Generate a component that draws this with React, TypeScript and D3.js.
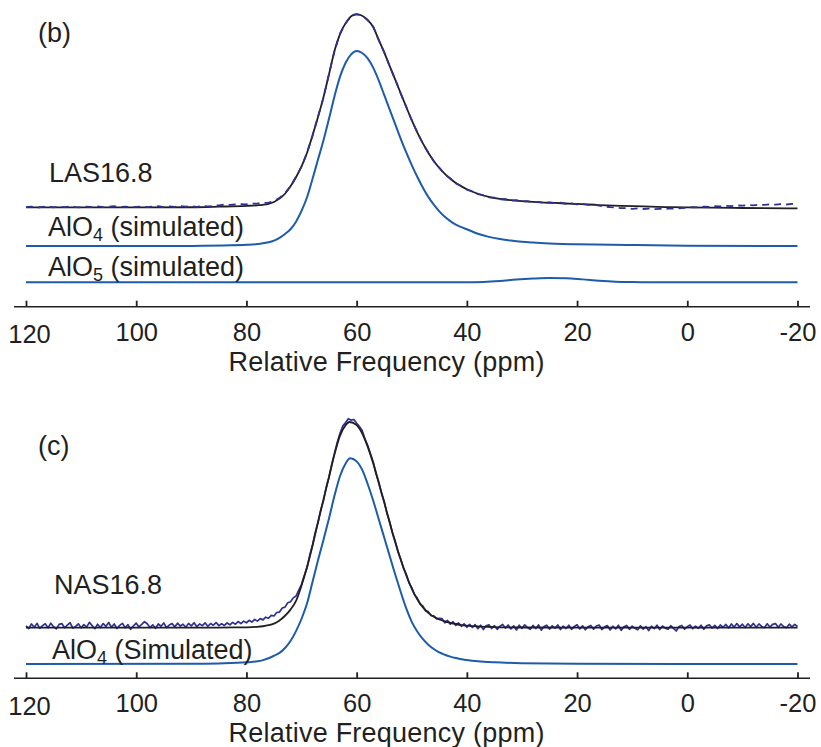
import React, { useEffect, useRef } from "react";
import * as d3 from "d3";

const xTicks = [120, 100, 80, 60, 40, 20, 0, -20];

// (b) LAS16.8 -- [ppm, intensity], peak of AlO4 = 100
const lasFit: [number, number][] = [
  [120, 0.5], [100, 0.5], [90, 0.6], [85, 0.9], [80, 1.3], [78, 1.6], [77, 1.85], [76, 2.3],
  [75, 3.3], [74, 5.0], [73, 7.5], [72, 11.3], [71, 16], [70, 21.5], [69, 28.5], [68, 37.5],
  [67, 47], [66, 57.2], [65, 69], [64, 81], [63, 89.5], [62, 95], [61, 98.5], [60, 99.6],
  [59, 98.8], [58, 96.7], [57, 93], [56, 86.5], [55, 80], [54, 73], [53, 66], [52, 59],
  [51, 52], [50, 45.3], [49, 39], [48, 33.5], [47, 28.5], [46, 24.3], [45, 20.7], [44, 17.7],
  [43, 15.2], [42, 13], [41, 11.3], [40, 9.8], [38, 7.5], [36, 5.9], [34, 4.9], [32, 4.2],
  [30, 3.7], [28, 3.3], [26, 3.0], [24, 2.8], [22, 2.5], [20, 2.3], [16, 1.7], [12, 1.3],
  [8, 1.0], [4, 0.7], [0, 0.5], [-10, 0.2], [-20, 0],
];
const lasAlO4: [number, number][] = [
  [120, 0], [95, 0], [88, 0.1], [84, 0.3], [80, 0.6], [78, 1.0], [76, 1.9], [75, 2.8],
  [74, 4.2], [73, 6.2], [72, 8.6], [71, 12.5], [70, 18], [69, 25], [68, 34.5], [67, 44.5],
  [66, 54.4], [65, 65.5], [64, 77], [63, 87], [62, 94], [61, 98.3], [60, 100], [59, 99],
  [58, 96.2], [57, 91.5], [56, 85], [55, 77.5], [54, 70], [53, 62.5], [52, 55], [51, 48],
  [50, 41.5], [49, 35.5], [48, 30], [47, 25.2], [46, 21.2], [45, 17.8], [44, 15], [43, 12.8],
  [42, 11], [41, 9.7], [40, 8.6], [38, 6.3], [36, 4.7], [34, 3.6], [32, 2.8], [30, 2.2],
  [28, 1.8], [24, 1.2], [20, 0.9], [10, 0.5], [0, 0.2], [-20, 0],
];
const lasAlO5: [number, number][] = [
  [120, 0], [40, 0], [37, 0.2], [34, 0.7], [31, 1.4], [28, 1.9], [25, 2.2], [22, 2.1],
  [19, 1.5], [16, 0.8], [13, 0.3], [10, 0.1], [7, 0], [-20, 0],
];
// measured spectrum, 120 ppm down to -20 ppm, 1 ppm step
const lasExpStart = 120;
const lasExpStep = 1;
const lasExp = [
  0.6, 0.9, 0.4, 0.8, 1.0, 0.5, 0.9, 0.6, 1.1, 0.7, 0.5, 0.9, 0.7, 1.0, 0.6, 0.8, 1.1, 0.7, 0.9, 0.6,
  0.8, 1.0, 0.6, 0.9, 1.1, 0.7, 1.0, 0.8, 1.2, 0.9, 1.1, 0.8, 1.2, 1.0, 1.3,
  1.6, 1.9, 1.8, 2.0, 2.2, 2.1, 2.4, 2.5, 2.7, 3.0,
  3.7, 5.4, 7.8, 11.4, 16.3, 21.4, 28.7, 37.3, 47.2, 57.0, 69.2, 80.8, 89.7, 94.8, 98.7, 99.5,
  98.9, 96.5, 93.2, 86.3, 80.2, 72.8, 66.2, 58.8, 52.2, 45.1, 39.2, 33.3, 28.7, 24.1, 20.9,
  17.5, 15.4, 12.8, 11.5, 9.6, 8.7, 7.3, 6.8, 5.7, 5.5, 4.7, 4.7, 4.0, 4.2, 3.5, 3.7, 3.1, 3.3,
  2.8, 3.1, 2.6, 2.9, 2.3, 2.6, 2.1, 2.3, 1.8, 1.9, 1.4,
  1.0, 0.6, 0.5, 0.1, 0.2, -0.2, 0.0, -0.3, -0.1, -0.4, -0.2, -0.3, 0.0, -0.1, 0.2,
  0.3, 0.6, 0.5, 0.9, 0.8, 1.1, 1.0, 1.3, 1.2, 1.5, 1.4, 1.7, 1.6, 1.9, 1.8, 2.1, 1.9, 2.2, 2.0,
  2.3, 2.2,
];

// (c) NAS16.8
const nasFit: [number, number][] = [
  [120, 0], [90, 0], [82, 0.15], [80, 0.2], [78, 0.4], [77, 0.7], [76, 1.2], [75, 2.0],
  [74, 3.5], [73, 5.8], [72, 8.8], [71, 13], [70, 20.5], [69, 29.5], [68, 40], [67, 51.5],
  [66, 62.5], [65, 73.5], [64, 84.5], [63, 93.5], [62, 98.5], [61.3, 100], [60, 98.5],
  [59, 94.5], [58, 88], [57, 80], [56, 70.5], [55, 61], [54, 51], [53, 41.5], [52, 33],
  [51, 25.5], [50, 19], [49, 13.8], [48, 10], [47, 7.2], [46, 5.3], [45, 4.0], [44, 3.1],
  [43, 2.4], [42, 1.8], [41, 1.3], [40, 1.0], [38, 0.6], [35, 0.3], [30, 0.1], [20, 0], [-20, 0],
];
const nasAlO4: [number, number][] = [
  [120, 0], [90, 0.1], [85, 0.3], [80, 0.8], [78, 1.3], [77, 1.9], [76, 2.8], [75, 4.0],
  [74, 5.4], [73, 7.8], [72, 11.2], [71, 16], [70, 22], [69, 29.5], [68, 40], [67, 50.5],
  [66, 60.5], [65, 71], [64, 82], [63, 91.5], [62, 97.5], [61.2, 100], [60, 98.5], [59, 94.5],
  [58, 87.5], [57, 79.5], [56, 70.5], [55, 61.5], [54, 52.5], [53, 43.5], [52, 35], [51, 27],
  [50, 20.5], [49, 15.8], [48, 12.2], [47, 9.4], [46, 7.3], [45, 5.6], [44, 4.5], [43, 3.6],
  [42, 2.9], [41, 2.3], [40, 1.9], [38, 1.3], [35, 0.8], [30, 0.4], [20, 0.15], [0, 0.05], [-20, 0],
];
// measured spectrum, 120 ppm down to -20 ppm, 0.5 ppm step
const nasExpStart = 120;
const nasExpStep = 0.5;
const nasExp = [
  0.9, -0.4, 1.8, 0.2, 2.1, -0.3, 1.0, 1.9, -0.1, 2.2,
  0.5, -0.6, 1.6, 2.0, 0.0, 1.2, 2.4, -0.2, 0.6, 1.9,
  -0.1, 1.5, 0.3, 2.6, 1.0, -0.5, 1.7, 0.1, 2.0, 0.6,
  2.5, 0.2, 1.8, -0.4, 1.1, 2.1, 0.0, 1.5, -0.8, 0.9,
  2.2, 0.4, 1.6, 2.9, 1.9, 0.1, 1.4, -0.3, 1.8, 0.7,
  2.3, 0.0, 1.3, 2.0, 0.4, 2.2, 0.8, 1.7, 0.2, 2.1,
  0.9, 2.4, 0.5, 1.8, 1.0, 2.3, 0.7, 2.0, 1.2, 2.5,
  1.0, 1.9, 1.1, 2.3, 1.4, 2.6, 1.7, 3.0, 2.0, 3.2, 2.4, 3.6, 2.7, 4.0, 3.2, 4.4,
  3.8, 5.1, 4.6, 6.0, 5.7, 7.4, 7.6, 9.6, 10.0, 12.1, 12.6, 14.5, 15.4, 18.3, 21.1,
  25.4, 29.2, 35.3, 40.2, 46.3, 51.2, 57.4, 62.0, 68.5, 73.3, 79.6, 84.9, 90.3, 94.6, 98.1,
  99.7, 101.6, 100.9, 101.2, 99.4, 97.8, 95.9, 91.9, 88.7, 84.6, 80.6, 75.1, 71.0, 65.5, 61.4,
  55.6, 51.5, 46.0, 42.1, 37.0, 33.4, 29.0, 26.1, 21.8, 19.5, 16.0, 14.4, 11.5, 10.6, 8.2,
  7.8, 5.9, 5.8, 4.3, 4.5,
  4.4, 2.4, 3.5, 1.7, 2.9, 1.1, 2.3, 0.7, 1.9, 0.2, 1.6, 0.1,
  1.5, -0.5, 1.2, -0.9, 0.9, 1.4, -0.4, 1.0, -0.8, 0.7,
  1.6, -0.2, 1.3, -0.6, 0.9, -1.1, 1.2, -0.3, 1.4, 0.1,
  -0.8, 1.1, -0.4, 1.3, -1.2, 0.6, 1.2, -0.7, 0.9, -0.2,
  1.3, -0.9, 0.8, -0.4, 1.2, -0.8, 0.6, 1.4, -0.6, 0.9,
  -1.0, 0.5, 1.1, -0.7, 0.8, 1.3, -0.9, 0.4, 1.0, -1.1,
  0.7, -0.6, 1.2, -1.3, 0.5, 1.1, -0.8, 0.8, -0.3, -1.0,
  0.9, -0.7, 0.5, -1.4, 0.7, -0.5, 1.2, -0.9, 0.8, -0.2,
  -0.8, 1.0, -0.3, -1.6, 0.6, 1.1, -0.7, 0.5, 1.3, -0.5,
  0.8, -0.3, 1.2, -0.8, 0.9, 1.4, -0.2, 1.1, -0.4, 1.3,
  0.2, 1.6, -0.1, 1.8, 0.3, 2.0, 0.4, 1.7, 0.1, 1.9,
  0.5, 2.1, 0.2, 1.8, 0.6, 0.0, 1.9, 0.3, 1.6, 2.0,
  0.2, 1.8, 0.5, 0.0, 1.7, 0.4, 1.6, 0.6,
];

const INK = "#231F20";
const BLUE = "#1D5CAB";
const NAVY = "#2E3192";
const FONT = "'Liberation Sans', Arial, Helvetica, sans-serif";

const App = () => {
  const ref = useRef<SVGSVGElement | null>(null);

  useEffect(() => {
    if (!ref.current) return;
    const svg = d3.select(ref.current);
    svg.selectAll("*").remove();

    const x = d3.scaleLinear().domain([120, -20]).range([26, 797.5]);

    const toPairs = (vals: number[], start: number, step: number) =>
      vals.map((v, i) => [start - i * step, v] as [number, number]);

    const drawPanel = (opts: {
      y: d3.ScaleLinear<number, number>;
      axisY: number;
      traces: { data: [number, number][]; offset: number; color: string; width: number; smooth: boolean; dash?: string }[];
      labels: { text: string; sub?: string; rest?: string; x: number; y: number }[];
    }) => {
      const g = svg.append("g");
      const { y } = opts;

      opts.traces.forEach(t => {
        const line = d3
          .line<[number, number]>()
          .x(d => x(d[0]))
          .y(d => y(d[1] + t.offset))
          .curve(t.smooth ? d3.curveMonotoneX : d3.curveLinear);
        g.append("path")
          .datum(t.data)
          .attr("fill", "none")
          .attr("stroke", t.color)
          .attr("stroke-width", t.width)
          .attr("stroke-linejoin", "round")
          .attr("stroke-dasharray", t.dash || null)
          .attr("d", line);
      });

      // axis, ticks point up into the plot
      const ax = g.append("g").attr("transform", `translate(0,${opts.axisY})`);
      ax.call(
        d3.axisBottom(x)
          .tickValues(xTicks)
          .tickFormat(d => String(d))
          .tickSize(-6)
          .tickSizeOuter(0)
      );
      ax.select(".domain").remove();
      ax.append("line")
        .attr("x1", x.range()[0] - 12)
        .attr("x2", x.range()[1] + 12.5)
        .attr("stroke", INK)
        .attr("stroke-width", 1.6);
      ax.selectAll(".tick line").attr("stroke", INK).attr("stroke-width", 1.8);
      ax.selectAll<SVGTextElement, number>(".tick text")
        .attr("fill", INK)
        .attr("font-family", FONT)
        .attr("font-size", 25.5)
        .attr("dy", null)
        .attr("y", d => (d === 120 ? 36.5 : 34))
        .attr("dx", d => (d === 120 ? 3 : 0));
      ax.append("text")
        .attr("x", 386.5)
        .attr("y", 64)
        .attr("text-anchor", "middle")
        .attr("fill", INK)
        .attr("font-family", FONT)
        .attr("font-size", 27)
        .attr("textLength", 316)
        .text("Relative Frequency (ppm)");

      opts.labels.forEach(l => {
        const t = g.append("text")
          .attr("x", l.x)
          .attr("y", l.y)
          .attr("fill", INK)
          .attr("font-family", FONT)
          .attr("font-size", 27);
        t.append("tspan").text(l.text);
        if (l.sub) {
          t.append("tspan").attr("dy", 5).attr("font-size", 18).text(l.sub);
          t.append("tspan").attr("dy", -5).text(l.rest || "");
        }
      });
    };

    // (b) LAS16.8
    const yTop = d3.scaleLinear().domain([0, 100]).range([282.3, 87.3]);
    drawPanel({
      y: yTop,
      axisY: 306.7,
      traces: [
        { data: lasAlO5, offset: 0, color: BLUE, width: 2, smooth: true },
        { data: lasAlO4, offset: 18.6, color: BLUE, width: 2, smooth: true },
        { data: lasFit, offset: 37.9, color: INK, width: 1.8, smooth: true },
        { data: toPairs(lasExp, lasExpStart, lasExpStep), offset: 37.9, color: NAVY, width: 1.8, smooth: false, dash: "7,5" },
      ],
      labels: [
        { text: "(b)", x: 38, y: 42 },
        { text: "LAS16.8", x: 49, y: 181.5 },
        { text: "AlO", sub: "4", rest: " (simulated)", x: 48, y: 236 },
        { text: "AlO", sub: "5", rest: " (simulated)", x: 48, y: 276 },
      ],
    });

    // (c) NAS16.8
    const yBot = d3.scaleLinear().domain([0, 100]).range([664, 458.3]);
    drawPanel({
      y: yBot,
      axisY: 678.3,
      traces: [
        { data: nasAlO4, offset: 0, color: BLUE, width: 2, smooth: true },
        { data: toPairs(nasExp, nasExpStart, nasExpStep), offset: 17.65, color: NAVY, width: 1.7, smooth: false },
        { data: nasFit, offset: 17.65, color: INK, width: 1.8, smooth: true },
      ],
      labels: [
        { text: "(c)", x: 38, y: 455 },
        { text: "NAS16.8", x: 54, y: 594 },
        { text: "AlO", sub: "4", rest: " (Simulated)", x: 52, y: 659 },
      ],
    });
  }, []);

  return (
    <svg
      ref={ref}
      width={821}
      height={747}
      style={{ position: "absolute", left: 0, top: 0, background: "#fff" }}
    />
  );
};

export default App;
